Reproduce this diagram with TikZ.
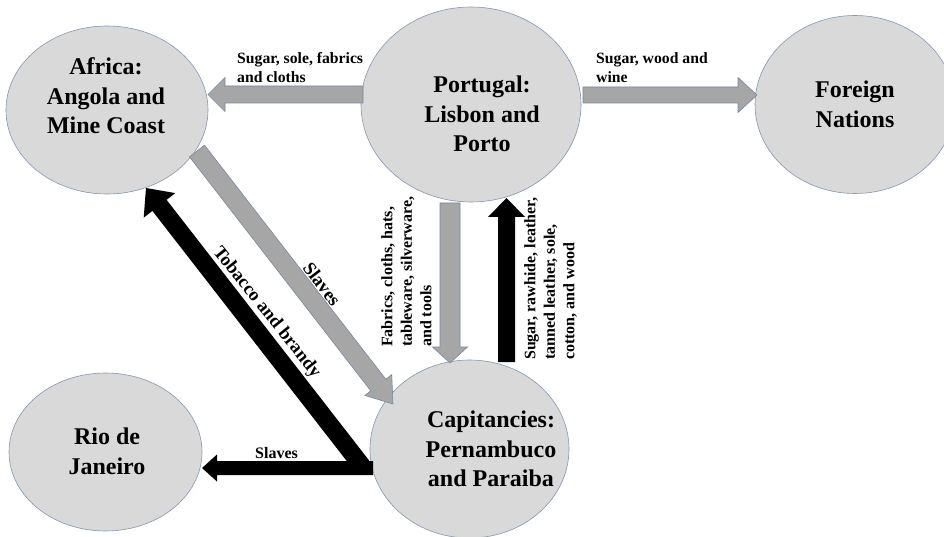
\documentclass[tikz,border=0pt]{standalone}
\usepackage{fontspec}
\setmainfont{Liberation Serif}
\usetikzlibrary{shapes.geometric,calc}

\definecolor{regionfill}{RGB}{217,217,217}
\definecolor{regionline}{RGB}{132,151,176}
\definecolor{flowgray}{RGB}{166,166,166}
\definecolor{flowline}{RGB}{120,136,158}

% Block arrow: #1 style, #2 tail, #3 tip,
% #4 half shaft width, #5 half head width, #6 head length
\newcommand\blockarrow[6]{%
  \path ($(#3)!#6!(#2)$) coordinate (ba-base);
  \path[#1] ($(#2)!#4!90:(#3)$) -- ($(ba-base)!#4!90:(#3)$)
    -- ($(ba-base)!#5!90:(#3)$) -- (#3)
    -- ($(ba-base)!#5!-90:(#3)$) -- ($(ba-base)!#4!-90:(#3)$)
    -- ($(#2)!#4!-90:(#3)$) -- cycle;
}

\begin{document}
\begin{tikzpicture}[x=1pt,y=-1pt,
  region/.style={ellipse, draw=regionline, line width=0.6pt, fill=regionfill, inner sep=0pt},
  regiontext/.style={align=center, inner sep=0pt, font=\fontsize{24}{29.5}\selectfont\bfseries},
  grayflow/.style={fill=flowgray, draw=flowline, line width=0.6pt},
  blackflow/.style={fill=black},
  flowlabel/.style={inner sep=0pt, align=left, font=\fontsize{15.7}{19.5}\selectfont\bfseries},
  sidelabel/.style={inner sep=0pt, align=left, font=\fontsize{16}{19.5}\selectfont\bfseries},
  diaglabel/.style={inner sep=0pt, font=\fontsize{18.5}{22}\selectfont\bfseries}]

\useasboundingbox (0,0) rectangle (944,537);
\clip (0,0) rectangle (944,537);
\fill[white] (0,0) rectangle (944,537);

% regions
\node[region, minimum width=202pt, minimum height=168pt] (africa) at (107,110) {};
\node[region, minimum width=220pt, minimum height=195pt] (portugal) at (471,104.5) {};
\node[region, minimum width=200pt, minimum height=178pt] (foreign) at (855,104.5) {};
\node[region, minimum width=193pt, minimum height=158pt] (rio) at (105.5,452) {};
\node[region, minimum width=199pt, minimum height=178pt] (capit) at (469.5,449) {};

\node[regiontext] (africa-t) at (106,96) {Africa:\\Angola and\\Mine Coast};
\node[regiontext] (portugal-t) at (482,114) {Portugal:\\Lisbon and\\Porto};
\node[regiontext] (foreign-t) at (855,104.5) {Foreign\\Nations};
\node[regiontext] (rio-t) at (107,451.5) {Rio de\\Janeiro};
\node[regiontext] (capit-t) at (491,449) {Capitancies:\\Pernambuco\\and Paraiba};

% arrow ends
\coordinate (pa-tail) at (363,94.5);   \coordinate (pa-tip) at (208,94.5);
\coordinate (pf-tail) at (583,95);     \coordinate (pf-tip) at (757,95);
\coordinate (pc-tail) at (450,203);    \coordinate (pc-tip) at (450,363);
\coordinate (cp-tail) at (506.5,362);  \coordinate (cp-tip) at (506.5,198);
\coordinate (ac-tail) at (197,151);    \coordinate (ac-tip) at (393,404);
\coordinate (ca-tail) at (362,466);    \coordinate (ca-tip) at (146,188);
\coordinate (cr-tail) at (373,468);    \coordinate (cr-tip) at (202,468);

% flows
\blockarrow{grayflow}{pa-tail}{pa-tip}{8.5pt}{17pt}{17pt}
\blockarrow{grayflow}{pf-tail}{pf-tip}{8pt}{17.5pt}{19pt}
\blockarrow{grayflow}{pc-tail}{pc-tip}{10pt}{17.5pt}{16pt}
\blockarrow{blackflow}{cp-tail}{cp-tip}{8.5pt}{18.5pt}{19pt}
\blockarrow{grayflow}{ac-tail}{ac-tip}{9.5pt}{17pt}{24pt}
\blockarrow{blackflow}{ca-tail}{ca-tip}{9pt}{20pt}{22pt}
\blockarrow{blackflow}{cr-tail}{cr-tip}{7pt}{13.5pt}{15pt}

% flow labels
\node[flowlabel, anchor=north west] (l-pa) at (237,52) {Sugar, sole, fabrics\\and cloths};
\node[flowlabel, anchor=north west] (l-pf) at (596,52) {Sugar, wood and\\wine};
\node[sidelabel, rotate=90, anchor=north west] (l-pc) at (381,347)
  {Fabrics, cloths, hats,\\tableware, silverware,\\and tools};
\node[sidelabel, rotate=90, anchor=north west] (l-cp) at (524,360)
  {Sugar, rawhide, leather,\\tanned leather, sole,\\cotton, and wood};
\node[diaglabel, rotate=-52.8] (l-ac) at (322,284) {Slaves};
\node[diaglabel, rotate=-51.4] (l-ca) at (266.5,312.5) {Tobacco and brandy};
\node[sidelabel, anchor=base] (l-cr) at (276.5,458) {Slaves};

\end{tikzpicture}
\end{document}
